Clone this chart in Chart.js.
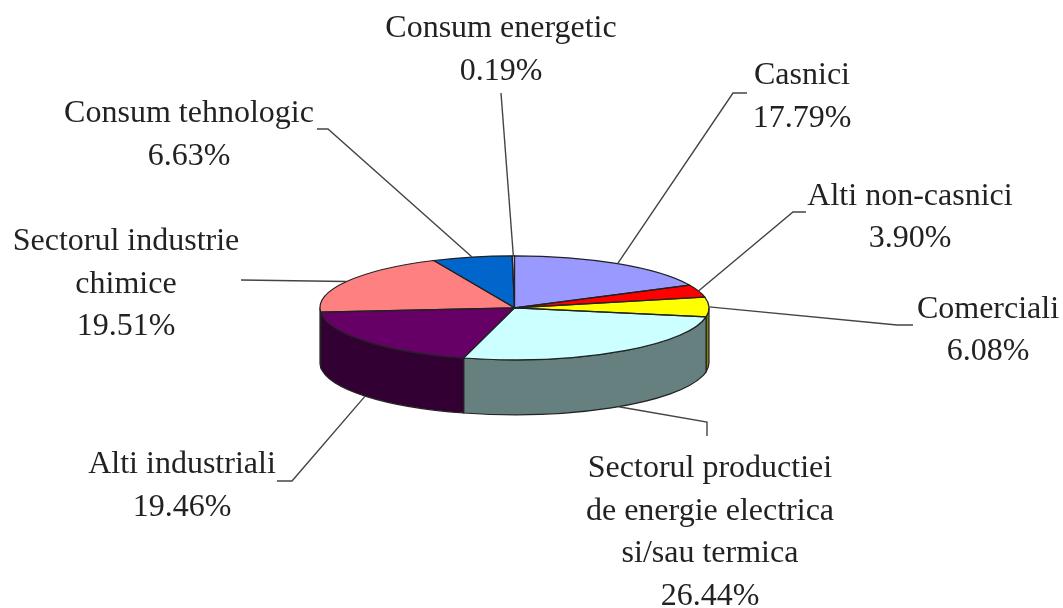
<!DOCTYPE html>
<html>
<head>
<meta charset="utf-8">
<title>Consum</title>
<script src="https://cdn.jsdelivr.net/npm/chart.js@4/dist/chart.umd.min.js"></script>
<style>
    body { margin: 0; background: #fff; }
    canvas { display: block; }
</style>
</head>
<body>
<canvas id="myChart" width="1063" height="608"></canvas>
<script>
// Slice data, clockwise from the top
const categories = ['Casnici', 'Alti non-casnici', 'Comerciali', 'Sectorul productiei de energie electrica si/sau termica', 'Alti industriali', 'Sectorul industrie chimice', 'Consum tehnologic', 'Consum energetic'];
const shares = [17.79, 3.90, 6.08, 26.44, 19.46, 19.51, 6.63, 0.19];
const labelLines = [
    ['Casnici'],
    ['Alti non-casnici'],
    ['Comerciali'],
    ['Sectorul productiei', 'de energie electrica', 'si/sau termica'],
    ['Alti industriali'],
    ['Sectorul industrie', 'chimice'],
    ['Consum tehnologic'],
    ['Consum energetic']
];
const sliceColors = ['#9999FF', '#FF0000', '#FFFF00', '#CCFFFF', '#660066', '#FF8080', '#0066CC', '#CCCCFF'];
const wallColors = ['#4D4D80', '#800000', '#808000', '#667F7F', '#330033', '#804040', '#003366', '#666680'];

// Layout of the flattened pie
const pieLeft = 320, pieRight = 709, pieCenterY = 307.8;
const flatRadiusY = 52, wallDepth = 55;

// Where each label sits: centre x, first baseline, line step, elbow points of the leader
const labelSpots = [
    { x: 802, y: 84, step: 43, leader: [[747, 93], [733, 93]] },
    { x: 910, y: 204.5, step: 42.5, leader: [[806, 212], [793, 212]] },
    { x: 988, y: 318, step: 41.5, leader: [[913, 325], [897, 325]] },
    { x: 710, y: 477, step: 42.5, leader: [[707, 436], [707, 422]] },
    { x: 182, y: 473, step: 43, leader: [[277, 481], [292, 481]] },
    { x: 126, y: 250, step: 42.5, leader: [[241, 280]] },
    { x: 189, y: 122, step: 42.5, leader: [[317, 129], [328, 129]] },
    { x: 501, y: 37, step: 43, leader: [[501, 93]] }
];

// Pie flattened with a transform, side wall and outlines drawn from the arc elements
const flatPie = {
    id: 'flatPie',
    beforeDatasetsDraw(chart) {
        const ctx = chart.ctx;
        const arcs = chart.getDatasetMeta(0).data;
        ctx.save();
        ctx.strokeStyle = '#222';
        ctx.lineWidth = 1.2;
        arcs.forEach((arc, i) => {
            const from = Math.max(arc.startAngle, 0);
            const to = Math.min(arc.endAngle, Math.PI);
            if (to <= from) return;
            const r = arc.outerRadius;
            ctx.beginPath();
            ctx.ellipse(arc.x, arc.y, r, flatRadiusY, 0, from, to);
            ctx.ellipse(arc.x, arc.y + wallDepth, r, flatRadiusY, 0, to, from, true);
            ctx.closePath();
            ctx.fillStyle = wallColors[i];
            ctx.fill();
            ctx.stroke();
        });
        ctx.restore();

        const first = arcs[0];
        ctx.save();
        ctx.translate(first.x, first.y);
        ctx.scale(1, flatRadiusY / first.outerRadius);
        ctx.translate(-first.x, -first.y);
    },
    afterDatasetsDraw(chart) {
        const ctx = chart.ctx;
        const arcs = chart.getDatasetMeta(0).data;
        ctx.restore();

        // slice outlines
        ctx.save();
        ctx.strokeStyle = '#222';
        ctx.lineWidth = 1.2;
        arcs.forEach(arc => {
            ctx.beginPath();
            ctx.ellipse(arc.x, arc.y, arc.outerRadius, flatRadiusY, 0, arc.startAngle, arc.endAngle);
            ctx.lineTo(arc.x, arc.y);
            ctx.closePath();
            ctx.stroke();
        });

        // leader lines, ending on the pie edge at the middle of the slice
        ctx.strokeStyle = '#444';
        ctx.lineWidth = 1.4;
        arcs.forEach((arc, i) => {
            const mid = (arc.startAngle + arc.endAngle) / 2;
            const edgeX = arc.x + arc.outerRadius * Math.cos(mid);
            let edgeY = arc.y + flatRadiusY * Math.sin(mid);
            if (Math.sin(mid) > 0) edgeY += wallDepth;
            ctx.beginPath();
            labelSpots[i].leader.forEach((p, k) => {
                if (k === 0) ctx.moveTo(p[0], p[1]);
                else ctx.lineTo(p[0], p[1]);
            });
            ctx.lineTo(edgeX, edgeY);
            ctx.stroke();
        });

        // labels
        ctx.fillStyle = '#222';
        ctx.font = '32px "Liberation Serif"';
        ctx.textAlign = 'center';
        ctx.textBaseline = 'alphabetic';
        labelSpots.forEach((spot, i) => {
            const lines = labelLines[i].concat(shares[i].toFixed(2) + '%');
            lines.forEach((line, k) => ctx.fillText(line, spot.x, spot.y + k * spot.step));
        });
        ctx.restore();
    }
};

const ctx = document.getElementById('myChart').getContext('2d');
new Chart(ctx, {
    type: 'pie',
    data: {
        labels: categories,
        datasets: [{
            data: shares,
            backgroundColor: sliceColors,
            borderWidth: 0,
            clip: false
        }]
    },
    options: {
        responsive: false,
        animation: false,
        layout: {
            padding: {
                left: pieLeft,
                right: 1063 - pieRight,
                top: pieCenterY - (pieRight - pieLeft) / 2,
                bottom: 608 - pieCenterY - (pieRight - pieLeft) / 2
            }
        },
        plugins: {
            legend: { display: false },
            tooltip: { enabled: false }
        }
    },
    plugins: [flatPie]
});
</script>
</body>
</html>
